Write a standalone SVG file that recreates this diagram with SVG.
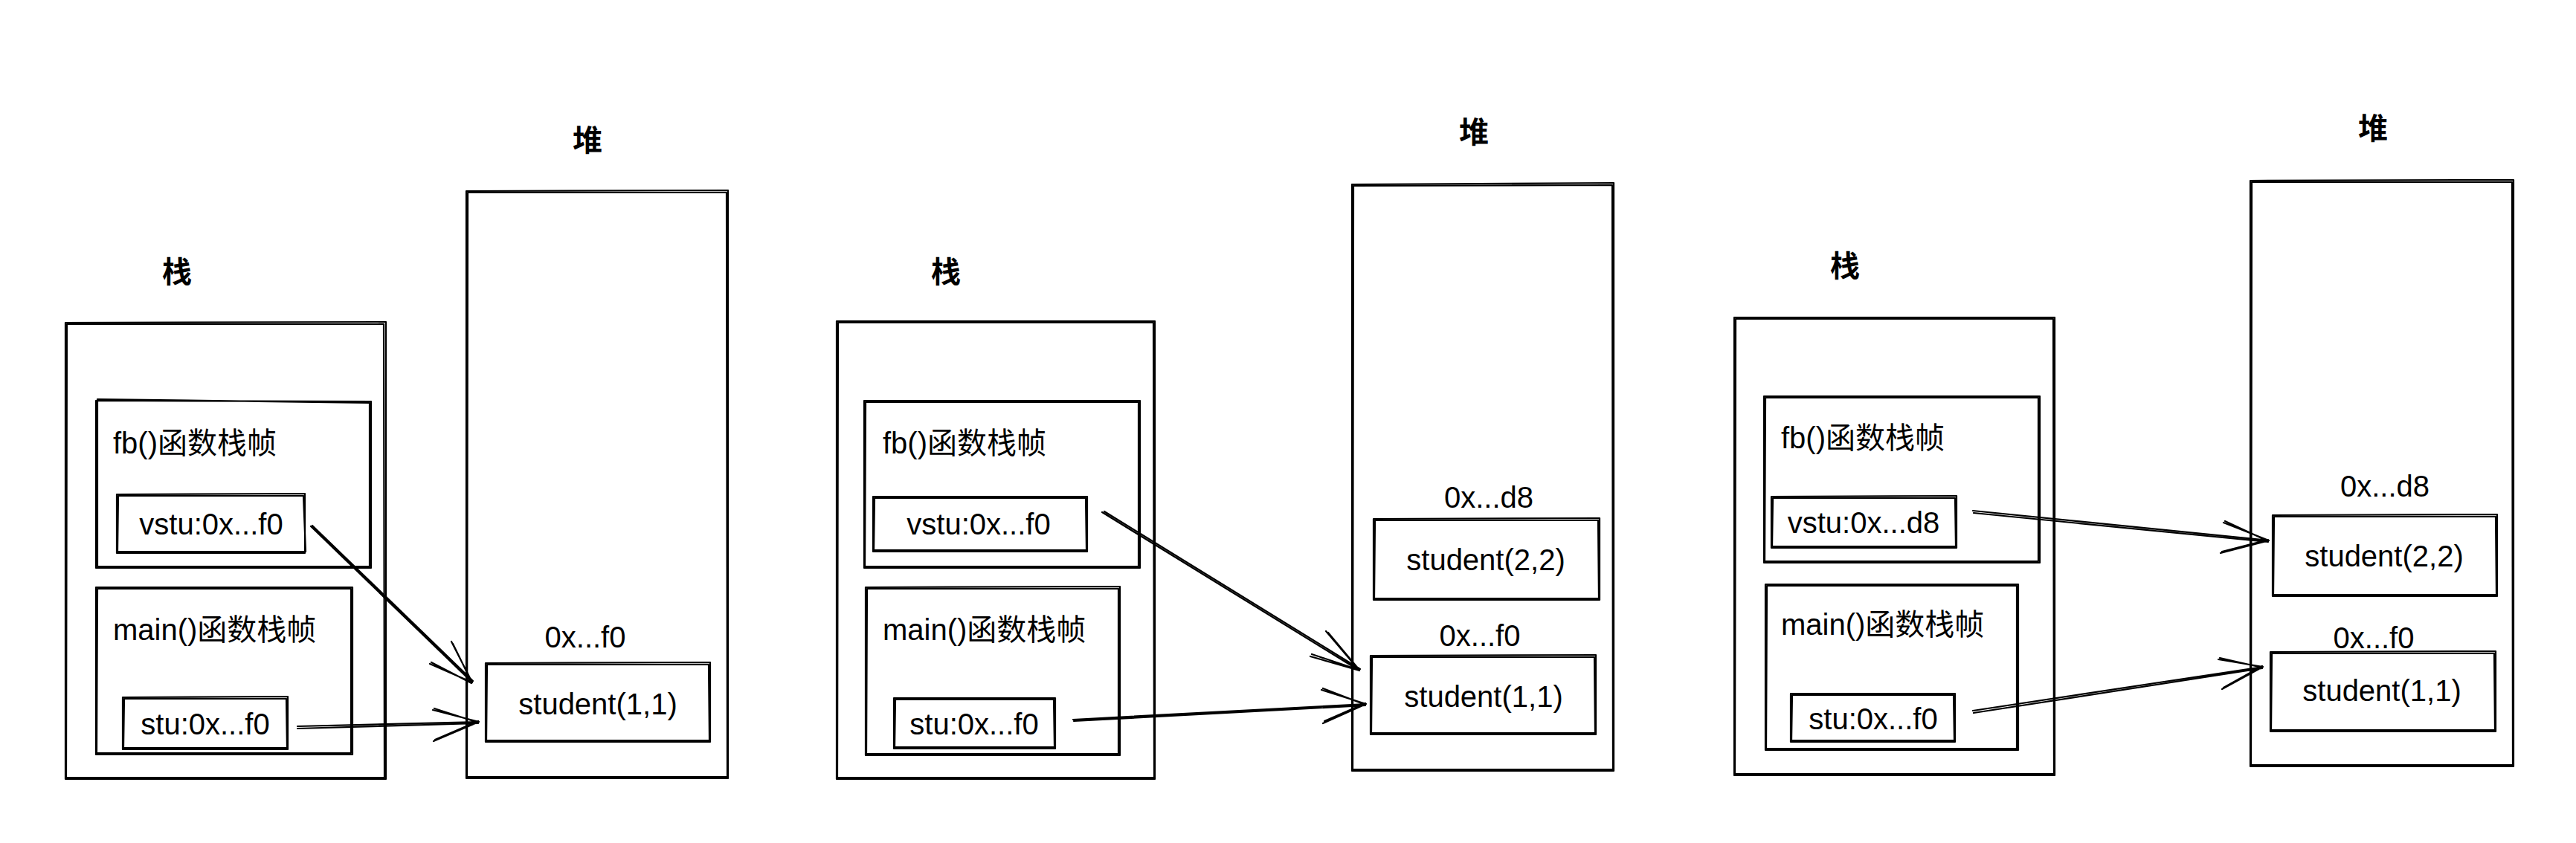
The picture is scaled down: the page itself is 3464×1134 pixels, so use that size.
<svg xmlns="http://www.w3.org/2000/svg" width="3464" height="1134" viewBox="0 0 3464 1134">
<style>
.s{fill:none;stroke:#000;stroke-width:2.2;stroke-linecap:round;stroke-linejoin:round}
.t{font-family:"Liberation Sans","Noto Sans CJK SC",sans-serif;font-size:40px;fill:#000}
.c{text-anchor:middle}
.h{font-family:"Noto Sans CJK SC",sans-serif;font-size:40px;font-weight:bold;text-anchor:middle;fill:#000}
</style>
<rect width="3464" height="1134" fill="#fff"/>

<!-- Panel 1 -->
<g id="p1-stack-label"><text class="h" x="238" y="380">栈</text></g>
<g id="p1-heap-label"><text class="h" x="790" y="203">堆</text></g>
<g id="p1-stack"><path class="s" d="M88 434 L519 433 L519 1048 L88 1048 Z M90 436 L516 436 L517 1046 L89 1046 Z"/></g>
<g id="p1-fb"><path class="s" d="M129 539 L499 540 L499 764 L129 764 Z M131 537 L497 542 L497 762 L131 762 Z"/>
<text class="t" x="152" y="610">fb()函数栈帧</text></g>
<g id="p1-vstu"><path class="s" d="M157 665 L410 664 L410 744 L157 744 Z M159 667 L408 667 L411 742 L158 742 Z"/>
<text class="t c" x="284" y="719">vstu:0x...f0</text></g>
<g id="p1-main"><path class="s" d="M129 790 L474 790 L474 1015 L129 1015 Z M131 792 L472 792 L472 1013 L130 1013 Z"/>
<text class="t" x="152" y="861">main()函数栈帧</text></g>
<g id="p1-stu"><path class="s" d="M165 938 L387 937 L387 1008 L165 1008 Z M167 940 L385 940 L386 1006 L166 1006 Z"/>
<text class="t c" x="276" y="988">stu:0x...f0</text></g>
<g id="p1-heap"><path class="s" d="M627 257 L979 256 L979 1047 L627 1047 Z M629 259 L977 259 L978 1045 L628 1045 Z"/></g>
<g id="p1-addr-f0"><text class="t c" x="787" y="871">0x...f0</text></g>
<g id="p1-s11"><path class="s" d="M653 892 L955 891 L955 998 L653 998 Z M655 894 L953 894 L954 996 L654 996 Z"/>
<text class="t c" x="804" y="961">student(1,1)</text></g>

<!-- Panel 2 -->
<g id="p2-stack-label"><text class="h" x="1272" y="380">栈</text></g>
<g id="p2-heap-label"><text class="h" x="1982" y="192">堆</text></g>
<g id="p2-stack"><path class="s" d="M1125 432 L1553 432 L1553 1048 L1125 1048 Z M1127 434 L1551 434 L1552 1046 L1126 1046 Z"/></g>
<g id="p2-fb"><path class="s" d="M1162 539 L1533 539 L1533 764 L1162 764 Z M1164 541 L1531 541 L1531 762 L1163 762 Z"/>
<text class="t" x="1187" y="610">fb()函数栈帧</text></g>
<g id="p2-vstu"><path class="s" d="M1174 668 L1462 668 L1462 742 L1174 742 Z M1176 670 L1460 670 L1461 740 L1175 740 Z"/>
<text class="t c" x="1316" y="719">vstu:0x...f0</text></g>
<g id="p2-main"><path class="s" d="M1164 790 L1506 789 L1506 1016 L1164 1016 Z M1166 792 L1504 792 L1504 1014 L1165 1014 Z"/>
<text class="t" x="1187" y="861">main()函数栈帧</text></g>
<g id="p2-stu"><path class="s" d="M1202 939 L1419 939 L1419 1007 L1202 1007 Z M1204 941 L1417 941 L1418 1005 L1203 1005 Z"/>
<text class="t c" x="1310" y="988">stu:0x...f0</text></g>
<g id="p2-heap"><path class="s" d="M1818 248 L2170 246 L2170 1037 L1818 1037 Z M1820 250 L2168 249 L2169 1035 L1819 1035 Z"/></g>
<g id="p2-addr-d8"><text class="t c" x="2002" y="683">0x...d8</text></g>
<g id="p2-s22"><path class="s" d="M1847 698 L2151 697 L2151 807 L1847 807 Z M1849 700 L2149 700 L2150 805 L1848 805 Z"/>
<text class="t c" x="1998" y="767">student(2,2)</text></g>
<g id="p2-addr-f0"><text class="t c" x="1990" y="869">0x...f0</text></g>
<g id="p2-s11"><path class="s" d="M1843 882 L2146 881 L2146 988 L1843 988 Z M1845 884 L2144 884 L2145 986 L1844 986 Z"/>
<text class="t c" x="1995" y="951">student(1,1)</text></g>

<!-- Panel 3 -->
<g id="p3-stack-label"><text class="h" x="2481" y="372">栈</text></g>
<g id="p3-heap-label"><text class="h" x="3191" y="187">堆</text></g>
<g id="p3-stack"><path class="s" d="M2332 427 L2763 427 L2763 1043 L2332 1043 Z M2334 429 L2761 429 L2762 1041 L2333 1041 Z"/></g>
<g id="p3-fb"><path class="s" d="M2372 533 L2743 533 L2743 757 L2372 757 Z M2374 535 L2741 535 L2741 755 L2373 755 Z"/>
<text class="t" x="2395" y="603">fb()函数栈帧</text></g>
<g id="p3-vstu"><path class="s" d="M2382 668 L2631 667 L2631 737 L2382 737 Z M2384 670 L2629 670 L2630 735 L2383 735 Z"/>
<text class="t c" x="2506" y="717">vstu:0x...d8</text></g>
<g id="p3-main"><path class="s" d="M2374 786 L2714 786 L2714 1009 L2374 1009 Z M2376 788 L2712 788 L2712 1007 L2375 1007 Z"/>
<text class="t" x="2395" y="854">main()函数栈帧</text></g>
<g id="p3-stu"><path class="s" d="M2408 933 L2629 933 L2629 998 L2408 998 Z M2410 935 L2627 935 L2628 996 L2409 996 Z"/>
<text class="t c" x="2519" y="981">stu:0x...f0</text></g>
<g id="p3-heap"><path class="s" d="M3026 243 L3380 242 L3380 1031 L3026 1031 Z M3028 245 L3378 245 L3379 1029 L3027 1029 Z"/></g>
<g id="p3-addr-d8"><text class="t c" x="3207" y="668">0x...d8</text></g>
<g id="p3-s22"><path class="s" d="M3056 693 L3358 692 L3358 802 L3056 802 Z M3058 695 L3356 695 L3357 800 L3057 800 Z"/>
<text class="t c" x="3206" y="762">student(2,2)</text></g>
<g id="p3-addr-f0"><text class="t c" x="3192" y="872">0x...f0</text></g>
<g id="p3-s11"><path class="s" d="M3053 877 L3356 876 L3356 984 L3053 984 Z M3055 879 L3354 879 L3355 982 L3054 982 Z"/>
<text class="t c" x="3203" y="943">student(1,1)</text></g>

<!-- Connectors -->
<g id="connectors" class="s">
<path d="M418 708 L635 918 M420 707 L636 916 M607 863 L635 918 M609 866 L634 917 M578 893 L635 918 M580 891 L634 919"/>
<path d="M400 977 L644 971 M400 980 L643 973 M582 955 L644 971 M584 953 L643 972 M583 997 L644 971 M585 995 L643 970"/>
<path d="M1482 689 L1828 902 M1485 688 L1829 900 M1783 849 L1828 902 M1786 851 L1827 900 M1762 883 L1828 902 M1764 880 L1827 901"/>
<path d="M1443 968 L1837 947 M1444 970 L1836 949 M1777 928 L1837 947 M1779 926 L1836 948 M1779 973 L1837 947 M1781 970 L1836 946"/>
<path d="M2653 687 L3051 727 M2654 690 L3050 729 M2990 703 L3051 727 M2992 701 L3050 728 M2986 744 L3051 727 M2988 742 L3050 726"/>
<path d="M2653 956 L3043 897 M2654 959 L3042 899 M2983 887 L3043 897 M2985 885 L3042 898 M2988 927 L3043 897 M2990 925 L3042 896"/>
</g>
</svg>
